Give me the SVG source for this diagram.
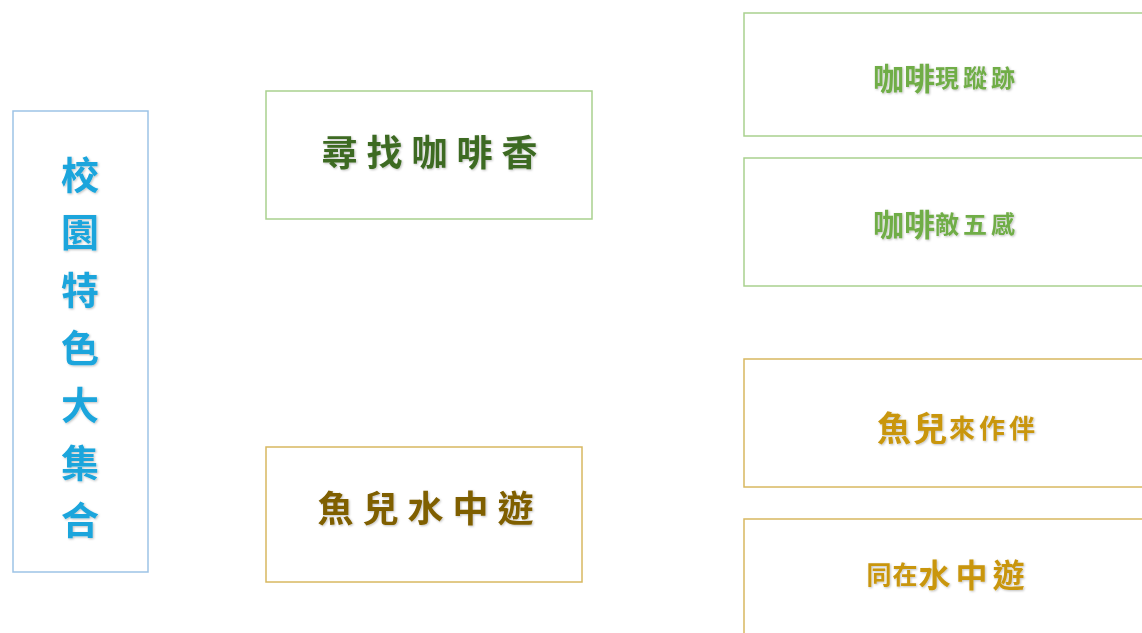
<svg xmlns="http://www.w3.org/2000/svg" width="1142" height="633" viewBox="0 0 1142 633">
<defs>
<filter id="sh" x="-10%" y="-10%" width="130%" height="130%">
<feDropShadow dx="1" dy="1" stdDeviation="0.8" flood-color="#000" flood-opacity="0.25"/>
</filter>
</defs>
<style>
text{font-family:"Noto Sans CJK TC","Noto Sans CJK SC",sans-serif;text-anchor:middle;dominant-baseline:central;filter:url(#sh)}
rect{fill:#fff;stroke-width:1.5}
.blue{stroke:#9dc3e6}
.green{stroke:#a9d18e}
.gold{stroke:#d8b860}
.tb{fill:#1aa5dc;font-size:38px;font-weight:bold}
.tdg{fill:#3d6b22;font-size:36px;font-weight:bold;letter-spacing:9px}
.tdy{fill:#7f5f00;font-size:36px;font-weight:bold;letter-spacing:9px}
.tlg{fill:#70ad47;font-weight:bold}
.tly{fill:#c9960c;font-weight:bold}
</style>
<rect width="1142" height="633" fill="#fff" stroke="none"/>
<g id="root">
<rect class="blue" x="13" y="111" width="135" height="461"/>
<text class="tb" x="80" y="172">校</text>
<text class="tb" x="80" y="229">園</text>
<text class="tb" x="80" y="287">特</text>
<text class="tb" x="80" y="345">色</text>
<text class="tb" x="80" y="402">大</text>
<text class="tb" x="80" y="460">集</text>
<text class="tb" x="80" y="517">合</text>
</g>
<g id="coffee">
<rect class="green" x="266" y="91" width="326" height="128"/>
<text class="tdg" x="434" y="150">尋找咖啡香</text>
</g>
<g id="fish">
<rect class="gold" x="266" y="447" width="316" height="135"/>
<text class="tdy" x="430" y="506">魚兒水中遊</text>
</g>
<g id="coffee1">
<rect class="green" x="744" y="13" width="410" height="123"/>
<text class="tlg" x="946" y="76"><tspan font-size="31px">咖啡</tspan><tspan font-size="24px" letter-spacing="4px">現蹤跡</tspan></text>
</g>
<g id="coffee2">
<rect class="green" x="744" y="158" width="410" height="128"/>
<text class="tlg" x="946" y="222"><tspan font-size="31px">咖啡</tspan><tspan font-size="24px" letter-spacing="4px">敵五感</tspan></text>
</g>
<g id="fish1">
<rect class="gold" x="744" y="359" width="410" height="128"/>
<text class="tly" x="958" y="426"><tspan font-size="34px" letter-spacing="2px">魚兒</tspan><tspan font-size="26px" letter-spacing="4px">來作伴</tspan></text>
</g>
<g id="fish2">
<rect class="gold" x="744" y="519" width="410" height="130"/>
<text class="tly" x="948" y="573"><tspan font-size="25px" letter-spacing="1px">同在</tspan><tspan font-size="32px" letter-spacing="5px">水中遊</tspan></text>
</g>
<g id="connectors"></g>
</svg>
